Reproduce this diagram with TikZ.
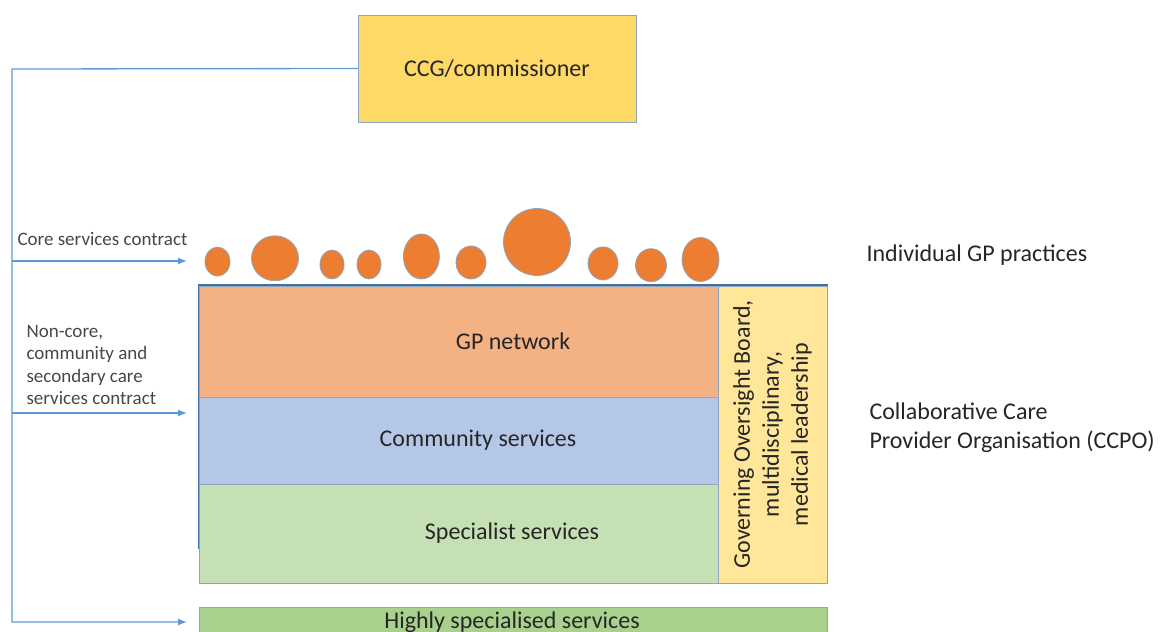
\documentclass[tikz,border=0pt]{standalone}
\usepackage{fontspec}
\setmainfont{Carlito}
\usetikzlibrary{shapes.geometric,arrows.meta}
\definecolor{ccgyellow}{HTML}{FFD966}
\definecolor{dotorange}{HTML}{ED7D31}
\definecolor{gppeach}{HTML}{F4B183}
\definecolor{commblue}{HTML}{B4C7E7}
\definecolor{specgreen}{HTML}{C5E0B4}
\definecolor{govyellow}{HTML}{FFE699}
\definecolor{highgreen}{HTML}{A9D18E}
\definecolor{linkblue}{HTML}{5B9BD5}
\definecolor{frameblue}{HTML}{41719C}
\definecolor{edgegray}{HTML}{8FA6BF}
\definecolor{txt}{HTML}{262626}
\tikzset{
  box/.style={rectangle,draw=edgegray,line width=0.9pt,inner sep=0pt,outer sep=0pt},
  gp/.style={ellipse,fill=dotorange,draw=edgegray,line width=0.8pt,inner sep=0pt},
  big/.style={text=txt,font=\fontsize{24}{29}\selectfont},
  small/.style={text=txt!85,font=\fontsize{19}{22.5}\selectfont,align=left},
  link/.style={draw=linkblue,line width=1.3pt},
  into/.style={link,-{Latex[length=9pt,width=7pt]}}
}
\begin{document}
\begin{tikzpicture}[x=1pt,y=-1pt]
\useasboundingbox (0,0) rectangle (1160,632);
\clip (0,0) rectangle (1160,632);
\node[box,fill=ccgyellow,minimum width=278pt,minimum height=107pt] (ccg) at (497,68.5) {};
\node[big] (ccgtxt) at (ccg) {CCG/commissioner};
\node[gp,minimum width=25pt,minimum height=29pt] (p1) at (217.5,261.6) {};
\node[gp,minimum width=47pt,minimum height=45pt] (p2) at (275,258.3) {};
\node[gp,minimum width=24pt,minimum height=29pt] (p3) at (332,264.5) {};
\node[gp,minimum width=24pt,minimum height=29pt] (p4) at (369,264.5) {};
\node[gp,minimum width=36pt,minimum height=45pt] (p5) at (421.4,256.5) {};
\node[gp,minimum width=30pt,minimum height=33pt] (p6) at (471,262.5) {};
\node[gp,minimum width=67pt,minimum height=67pt] (p7) at (537,242) {};
\node[gp,minimum width=30pt,minimum height=33pt] (p8) at (603,263.4) {};
\node[gp,minimum width=31pt,minimum height=33pt] (p9) at (651,265.2) {};
\node[gp,minimum width=37pt,minimum height=44pt] (p10) at (700.5,259.5) {};
\draw[frameblue,line width=2.5pt] (199,285) rectangle (827,548);
\node[box,fill=gppeach,anchor=north west,minimum width=519pt,minimum height=111pt] (gpnet) at (199,286) {};
\node[box,fill=commblue,anchor=north west,minimum width=519pt,minimum height=87pt] (comm) at (gpnet.south west) {};
\node[box,fill=specgreen,anchor=north west,minimum width=519pt,minimum height=99pt] (spec) at (comm.south west) {};
\node[box,fill=govyellow,anchor=north west,minimum width=109pt,minimum height=297pt] (gov) at (gpnet.north east) {};
\node[box,fill=highgreen,anchor=north west,minimum width=628pt,minimum height=40pt] (high) at (199,607) {};
\node[big] (gptxt) at (513,341) {GP network};
\node[big] (commtxt) at (478,440) {Community services};
\node[big] (spectxt) at (512,533) {Specialist services};
\node[big,rotate=90,align=center] (govtxt) at (gov) {Governing Oversight Board,\\multidisciplinary,\\medical leadership};
\node[big] (hightxt) at (512,622) {Highly specialised services};
\node[big,anchor=west] (practices) at (863,255) {Individual GP practices};
\node[big,anchor=west,align=left] (ccpo) at (866,428) {Collaborative Care\\Provider Organisation (CCPO)};
\node[small,anchor=west] (corelbl) at (14,239) {Core services contract};
\node[small,anchor=west] (noncorelbl) at (23,365) {Non-core,\\community and\\secondary care\\services contract};
\coordinate (bend) at (12,69);
\coordinate (foot) at (12,622);
\coordinate (corein) at (187,261);
\coordinate (noncorein) at (187,413);
\coordinate (highin) at (187,622);
\draw[into] (ccg.west) -- (bend) -- (foot) -- (highin);
\draw[into] (bend |- corein) -- (corein);
\draw[into] (bend |- noncorein) -- (noncorein);
\end{tikzpicture}
\end{document}
